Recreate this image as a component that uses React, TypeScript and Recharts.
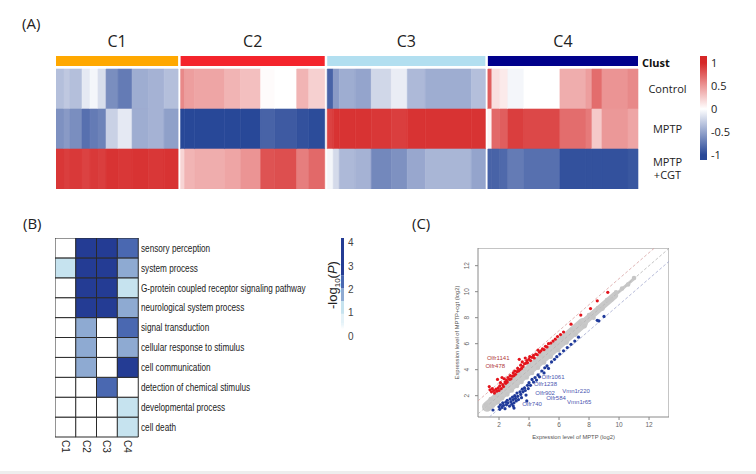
import React from 'react';
import {
  ComposedChart,
  BarChart,
  Bar,
  Cell,
  XAxis,
  YAxis,
  ReferenceArea,
  ReferenceLine,
  ScatterChart,
  Scatter,
} from 'recharts';

// ---------------- Panel A data ----------------
const clusterNames = ['C1', 'C2', 'C3', 'C4'];
const conditionNames = ['Control', 'MPTP', 'MPTP\n+CGT'];
const colorbarATicks = [-1, -0.5, 0, 0.5, 1];

const c1Genes = [4, 3, 6, 4, 4, 4, 6, 7, 8, 8, 7];
const c1Control = [-0.35, -0.3, -0.35, -0.12, -0.05, -0.18, -0.62, -0.72, -0.45, -0.42, -0.35];
const c1Mptp = [-0.6, -0.55, -0.62, -0.78, -0.72, -0.68, -0.25, -0.12, -0.45, -0.42, -0.52];
const c1Cgt = [0.93, 0.9, 0.92, 0.88, 0.92, 0.9, 0.95, 0.93, 0.95, 0.93, 0.95];

const c2Genes = [2, 5, 15, 8, 10, 7, 11, 6, 8];
const c2Control = [0.55, 0.45, 0.42, 0.35, 0.3, 0.02, 0.0, 0.35, 0.22];
const c2Mptp = [-1, -1, -1, -1, -1, -0.85, -0.9, -0.95, -0.98];
const c2Cgt = [0.2, 0.35, 0.38, 0.42, 0.5, 0.8, 0.82, 0.6, 0.7];

const c3Genes = [3, 3, 8, 8, 10, 8, 9, 23, 7];
const c3Control = [-0.85, -0.55, -0.45, -0.5, -0.22, -0.1, -0.38, -0.45, -0.35];
const c3Mptp = [0.88, 0.95, 0.95, 0.95, 0.93, 0.9, 0.95, 0.95, 0.95];
const c3Cgt = [-0.05, -0.2, -0.38, -0.42, -0.65, -0.6, -0.48, -0.4, -0.5];

const c4Genes = [2, 4, 4, 8, 18, 13, 3, 5, 13, 5];
const c4Control = [0.75, 0.15, 0.1, -0.05, 0.0, 0.38, 0.45, 0.68, 0.5, 0.55];
const c4Mptp = [0.05, 0.7, 0.75, 0.9, 0.85, 0.68, 0.62, 0.25, 0.48, 0.42];
const c4Cgt = [-0.85, -0.85, -0.82, -0.72, -0.78, -0.95, -0.95, -0.95, -0.95, -0.92];

// ---------------- Panel B data ----------------
const goTerms = [
  'sensory perception',
  'system process',
  'G-protein coupled receptor signaling pathway',
  'neurological system process',
  'signal transduction',
  'cellular response to stimulus',
  'cell communication',
  'detection of chemical stimulus',
  'developmental process',
  'cell death',
];
const goC1 = [0, 1.2, 0, 0, 0, 0, 0, 0, 0, 0];
const goC2 = [3.6, 3.5, 3.6, 3.5, 1.8, 1.8, 1.8, 0, 0, 0];
const goC3 = [3.6, 3.6, 3.5, 3.6, 0, 0, 0, 2.4, 0, 0];
const goC4 = [2.4, 1.8, 1.2, 1.8, 2.4, 1.8, 3.3, 0, 1.2, 1.2];
const colorbarBTicks = [0, 1, 2, 3, 4];
const colorbarBBands = [
  [0.55, 0.95],
  [0.95, 1.5],
  [1.5, 2.05],
  [2.05, 2.6],
  [2.6, 4.2],
];

// ---------------- Panel C data ----------------
const xTicksC = [2, 4, 6, 8, 10, 12];
const yTicksC = [2, 4, 6, 8, 10, 12];
const bandPath = [
  [1.2, 1.15],
  [7.6, 7.6],
  [9.7, 9.7],
  [11.0, 11.0],
];
const grayPoints = [
  [1.15, 1.3], [1.3, 1.0], [1.45, 1.75], [1.6, 1.25], [1.75, 2.05], [1.9, 1.5], [2.05, 2.4], [2.2, 1.8],
  [2.4, 2.8], [2.55, 2.1], [2.7, 3.1], [2.85, 2.4], [3.0, 3.35], [3.2, 2.75], [3.35, 3.7], [3.5, 3.05],
  [3.7, 4.05], [3.85, 3.4], [4.0, 4.35], [4.2, 3.75], [4.4, 4.75], [4.6, 4.15], [4.8, 5.1], [5.0, 4.55],
  [5.2, 5.5], [5.45, 5.0], [5.7, 6.0], [5.95, 5.5], [6.2, 6.45], [6.5, 6.1], [6.8, 7.05], [7.1, 6.7],
  [7.4, 7.6], [7.7, 7.35], [8.0, 8.2], [8.3, 8.0], [8.6, 8.75], [8.9, 8.7], [9.2, 9.35], [9.5, 9.4],
  [9.8, 9.95], [10.2, 10.25], [10.6, 10.55], [11.0, 11.05],
];
const redPoints = [
  [1.35, 2.7], [1.4, 2.45], [1.5, 2.3], [1.55, 2.55], [1.65, 2.4], [1.7, 2.2], [1.8, 2.5], [1.85, 2.35],
  [1.9, 3.25], [1.95, 2.6], [2.0, 2.4], [2.05, 2.75], [2.1, 3.0], [2.15, 2.55], [2.2, 3.4], [2.25, 2.85],
  [2.3, 2.7], [2.35, 3.3], [2.4, 3.05], [2.45, 2.95], [2.5, 3.2], [2.55, 3.05], [2.6, 3.4], [2.7, 3.25],
  [2.75, 3.55], [2.8, 3.3], [2.9, 3.5], [2.95, 3.75], [3.0, 3.55], [3.05, 3.9], [3.1, 3.65], [3.2, 3.85],
  [3.25, 4.1], [3.3, 3.9], [3.35, 4.8], [3.4, 4.0], [3.45, 4.35], [3.5, 4.1], [3.55, 4.6], [3.6, 4.25],
  [3.7, 4.45], [3.75, 4.9], [3.8, 4.5], [3.85, 4.7], [3.9, 4.55], [4.0, 4.8], [4.05, 5.0], [4.1, 4.7],
  [4.2, 4.95], [4.3, 5.1], [4.35, 4.9], [4.45, 5.2], [4.55, 5.15], [4.6, 5.5], [4.7, 5.35], [4.8, 5.45],
  [4.9, 5.6], [5.0, 5.55], [5.1, 5.8], [5.2, 5.75], [5.3, 6.0], [5.45, 6.05], [5.6, 6.2], [5.75, 6.35],
  [5.9, 6.55], [6.1, 6.7], [6.3, 6.9], [6.8, 7.5], [7.45, 8.2], [8.1, 8.7], [8.55, 9.3], [9.25, 9.95],
];
const bluePoints = [
  [1.6, 0.9], [2.0, 1.15], [2.05, 0.95], [2.1, 1.3], [2.2, 1.1], [2.25, 1.45], [2.3, 1.25], [2.4, 1.0],
  [2.45, 1.5], [2.5, 1.3], [2.55, 1.65], [2.6, 1.45], [2.7, 1.2], [2.75, 1.75], [2.8, 1.55], [2.85, 1.35],
  [2.9, 1.9], [2.95, 1.2], [2.95, 1.7], [3.0, 1.45], [3.0, 1.05], [3.05, 2.0], [3.1, 1.8], [3.15, 1.6],
  [3.2, 2.2], [3.25, 1.95], [3.3, 1.7], [3.4, 2.3], [3.45, 2.1], [3.5, 1.85], [3.55, 2.5], [3.6, 2.3],
  [3.7, 2.6], [3.75, 2.4], [3.8, 2.05], [3.85, 1.6], [3.9, 2.8], [3.95, 2.55], [4.0, 3.0], [4.1, 2.8],
  [4.2, 3.25], [4.3, 3.05], [4.4, 3.4], [4.5, 3.2], [4.6, 3.6], [4.7, 3.45], [4.85, 3.9], [5.0, 3.75],
  [5.05, 4.15], [5.2, 4.3], [5.3, 4.1], [5.5, 4.6], [5.7, 4.8], [5.85, 5.0], [6.05, 5.2], [6.3, 5.45],
  [6.55, 5.7], [6.8, 5.95], [7.05, 6.2], [7.3, 6.5], [8.55, 7.8], [8.65, 7.75], [9.0, 8.1],
];
const redGeneLabels = [
  { x: 1.95, y: 4.9, label: 'Olfr1141' },
  { x: 1.75, y: 4.3, label: 'Olfr478' },
];
const blueGeneLabels = [
  { x: 5.6, y: 3.4, label: 'Olfr1061' },
  { x: 5.1, y: 2.92, label: 'Olfr1238' },
  { x: 5.07, y: 2.22, label: 'Olfr902' },
  { x: 5.8, y: 1.84, label: 'Olfr584' },
  { x: 4.2, y: 1.38, label: 'Olfr740' },
  { x: 7.13, y: 2.34, label: 'Vmn1r220' },
  { x: 7.35, y: 1.55, label: 'Vmn1r65' },
];
const diagOffsets = [1, 0, -1];

// ---------------- styles ----------------
const SANS = "'Open Sans', 'Noto Sans', sans-serif";
const ARIAL = "'Liberation Sans', Arial, sans-serif";
const clusterColors = ['#ffa800', '#f4242c', '#b2dff0', '#00008b'];

function heatColor(v: number): string {
  const t = Math.max(-1, Math.min(1, v));
  const target = t >= 0 ? [214, 40, 40] : [40, 72, 152];
  const a = Math.abs(t);
  const c = target.map((ch) => Math.round(255 + (ch - 255) * a));
  return `rgb(${c[0]},${c[1]},${c[2]})`;
}

function goColor(v: number): string {
  if (v < 0.5) return '#ffffff';
  if (v < 1.5) return '#c6e3ef';
  if (v < 2.1) return '#8eaad2';
  if (v < 2.8) return '#4a68b1';
  return '#243c94';
}
const bandColors = ['#e4f2f8', '#c6e3ef', '#8eaad2', '#4a68b1', '#243c94'];

// ---------------- Panel A ----------------
function PanelA() {
  const genes = [c1Genes, c2Genes, c3Genes, c4Genes];
  const rows = [
    [c1Control, c1Mptp, c1Cgt],
    [c2Control, c2Mptp, c2Cgt],
    [c3Control, c3Mptp, c3Cgt],
    [c4Control, c4Mptp, c4Cgt],
  ];
  const GAP = 1.25;
  const cells: { x1: number; x2: number; y1: number; y2: number; fill: string }[] = [];
  const bounds: number[][] = [];
  let start = 0;
  genes.forEach((g, k) => {
    let x = start;
    g.forEach((w, j) => {
      rows[k].forEach((vals, r) => {
        cells.push({ x1: x, x2: x + w, y1: r, y2: r + 1, fill: heatColor(vals[j]) });
      });
      x += w;
    });
    bounds.push([start, x]);
    start = x + GAP;
  });
  const total = start - GAP;
  const centers = bounds.map((b) => (b[0] + b[1]) / 2);

  const ClusterTick = (props: any) => {
    const { x, y, index } = props;
    return (
      <text x={x} y={y - 9} textAnchor="middle" fontSize={16} fill="#222" fontFamily={SANS}>
        {clusterNames[index]}
      </text>
    );
  };
  const RowTick = (props: any) => {
    const { x, y, index } = props;
    if (index === 0) {
      return (
        <text x={x + 4} y={y + 5.5} fontSize={11} fontWeight="bold" fill="#111" fontFamily={SANS}>
          Clust
        </text>
      );
    }
    const lines = conditionNames[index - 1].split('\n');
    if (lines.length === 1) {
      return (
        <text x={x + 29.5} y={y + 4} textAnchor="middle" fontSize={11} fill="#222" fontFamily={SANS}>
          {lines[0]}
        </text>
      );
    }
    return (
      <g>
        <text x={x + 29.5} y={y - 3} textAnchor="middle" fontSize={11} fill="#222" fontFamily={SANS}>
          {lines[0]}
        </text>
        <text x={x + 29.5} y={y + 9.5} textAnchor="middle" fontSize={11} fill="#222" fontFamily={SANS}>
          {lines[1]}
        </text>
      </g>
    );
  };

  return (
    <div style={{ position: 'absolute', left: 56, top: 30 }}>
      <ComposedChart width={582 + 80} height={133 + 26} margin={{ top: 0, right: 0, bottom: 0, left: 0 }} data={[{ x: 0, y: 0 }]}>
        <XAxis
          type="number"
          dataKey="x"
          orientation="top"
          domain={[0, total]}
          allowDataOverflow
          height={26}
          ticks={centers}
          interval={0}
          tick={ClusterTick}
          axisLine={false}
          tickLine={false}
          tickSize={0}
          tickMargin={0}
        />
        <YAxis
          type="number"
          dataKey="y"
          orientation="right"
          reversed
          domain={[-0.325, 3]}
          allowDataOverflow
          width={80}
          ticks={[-0.2, 0.5, 1.5, 2.5]}
          interval={0}
          tick={RowTick}
          axisLine={false}
          tickLine={false}
          tickSize={0}
          tickMargin={0}
        />
        {bounds.map((b, k) => (
          <ReferenceArea
            key={`cb${k}`}
            x1={b[0]}
            x2={b[1]}
            y1={-0.325}
            y2={-0.075}
            fill={clusterColors[k]}
            fillOpacity={1}
            stroke="none"
          />
        ))}
        {cells.map((c, i) => (
          <ReferenceArea
            key={`c${i}`}
            x1={c.x1}
            x2={c.x2}
            y1={c.y1}
            y2={c.y2}
            fill={c.fill}
            fillOpacity={1}
            stroke={c.fill}
            strokeWidth={0.6}
          />
        ))}
      </ComposedChart>
    </div>
  );
}

function ColorbarA() {
  return (
    <div style={{ position: 'absolute', left: 700, top: 56 }}>
      <ComposedChart width={7 + 40} height={104 + 12} margin={{ top: 0, right: 0, bottom: 12, left: 0 }} data={[{ x: 0, y: 0 }]}>
        <defs>
          <linearGradient id="gradA" x1="0" y1="0" x2="0" y2="1">
            <stop offset="0" stopColor={heatColor(1)} />
            <stop offset="0.066" stopColor={heatColor(1)} />
            <stop offset="0.28" stopColor={heatColor(0.5)} />
            <stop offset="0.509" stopColor={heatColor(0)} />
            <stop offset="0.73" stopColor={heatColor(-0.5)} />
            <stop offset="0.951" stopColor={heatColor(-1)} />
            <stop offset="1" stopColor={heatColor(-1)} />
          </linearGradient>
        </defs>
        <XAxis type="number" dataKey="x" domain={[0, 1]} hide />
        <YAxis
          type="number"
          dataKey="y"
          orientation="right"
          domain={[-1.11, 1.15]}
          allowDataOverflow
          ticks={colorbarATicks}
          interval={0}
          width={40}
          axisLine={false}
          tickLine={false}
          tickSize={0}
          tickMargin={4}
          tick={{ fontSize: 11, fill: '#222', fontFamily: SANS }}
        />
        <ReferenceArea x1={0} x2={1} y1={-1.11} y2={1.15} fill="url(#gradA)" fillOpacity={1} stroke="none" />
      </ComposedChart>
    </div>
  );
}

// ---------------- Panel B ----------------
function PanelB() {
  const cols = [goC1, goC2, goC3, goC4];
  const n = goTerms.length;
  const data = clusterNames.map((name) => {
    const row: any = { name };
    goTerms.forEach((_, i) => (row[`t${i}`] = 1));
    return row;
  });
  const ColTick = (props: any) => {
    const { x, y, payload } = props;
    return (
      <text
        x={x}
        y={y}
        transform={`rotate(90, ${x}, ${y})`}
        textAnchor="start"
        dominantBaseline="central"
        fontSize={10}
        fill="#222"
        fontFamily={ARIAL}
      >
        {payload.value}
      </text>
    );
  };
  const TermTick = (props: any) => {
    const { x, y, payload } = props;
    const label = goTerms[n - 1 - Math.floor(payload.value)];
    return (
      <text
        transform={`translate(${x}, ${y + 3.8}) scale(0.78, 1)`}
        x={0}
        y={0}
        textAnchor="start"
        fontSize={10.5}
        fill="#222"
        fontFamily={ARIAL}
      >
        {label}
      </text>
    );
  };
  return (
    <div style={{ position: 'absolute', left: 55, top: 238 }}>
      <BarChart
        width={83 + 190}
        height={199 + 24}
        data={data}
        margin={{ top: 0, right: 0, bottom: 0, left: 0 }}
        barCategoryGap={0}
        barGap={0}
      >
        <XAxis
          dataKey="name"
          type="category"
          height={24}
          interval={0}
          tick={ColTick}
          axisLine={false}
          tickLine={false}
          tickSize={0}
          tickMargin={3}
        />
        <YAxis
          type="number"
          orientation="right"
          domain={[0, n]}
          ticks={goTerms.map((_, i) => i + 0.5)}
          interval={0}
          width={190}
          axisLine={false}
          tickLine={false}
          tickSize={0}
          tickMargin={3}
          tick={TermTick}
        />
        {goTerms.map((_, i) => {
          const term = n - 1 - i;
          return (
            <Bar key={`b${i}`} dataKey={`t${i}`} stackId="s" isAnimationActive={false} stroke="#2a2a2a" strokeWidth={1}>
              {cols.map((col, k) => (
                <Cell key={`cell${k}`} fill={goColor(col[term])} />
              ))}
            </Bar>
          );
        })}
      </BarChart>
    </div>
  );
}

function ColorbarB() {
  return (
    <div style={{ position: 'absolute', left: 340.5, top: 238 }}>
      <ComposedChart width={3 + 20} height={102 + 10} margin={{ top: 0, right: 0, bottom: 10, left: 0 }} data={[{ x: 0, y: 0 }]}>
        <defs>
          <linearGradient id="gradB" x1="0" y1="1" x2="0" y2="0">
            <stop offset="0" stopColor="#ffffff" />
            <stop offset="1" stopColor={bandColors[0]} />
          </linearGradient>
        </defs>
        <XAxis type="number" dataKey="x" domain={[0, 1]} hide />
        <YAxis
          type="number"
          dataKey="y"
          orientation="right"
          domain={[-0.17, 4.2]}
          allowDataOverflow
          ticks={colorbarBTicks}
          interval={0}
          width={20}
          axisLine={false}
          tickLine={false}
          tickSize={0}
          tickMargin={4}
          tick={{ fontSize: 10, fill: '#444', fontFamily: ARIAL }}
        />
        <ReferenceArea x1={0} x2={1} y1={0.3} y2={colorbarBBands[0][0]} fill="url(#gradB)" fillOpacity={1} stroke="none" />
        {colorbarBBands.map((b, i) => (
          <ReferenceArea key={`cbb${i}`} x1={0} x2={1} y1={b[0]} y2={b[1]} fill={bandColors[i]} fillOpacity={1} stroke="none" />
        ))}
      </ComposedChart>
    </div>
  );
}

// ---------------- Panel C ----------------
function PanelC() {
  const xDom = [0.6, 13.33];
  const yDom = [0.36, 13.36];
  const toObj = (arr: number[][]) => arr.map((p) => ({ x: p[0], y: p[1] }));
  const bandWidths = [10, 7, 3];
  const YTick = (props: any) => {
    const { x, y, payload } = props;
    return (
      <text x={x} y={y} transform={`rotate(-90, ${x}, ${y})`} textAnchor="middle" fontSize={6.5} fill="#666" fontFamily={ARIAL}>
        {payload.value}
      </text>
    );
  };
  const dot = (color: string, r: number) => (p: any) => <circle cx={p.cx} cy={p.cy} r={r} fill={color} />;
  const labelShape = (color: string) => (p: any) => (
    <text x={p.cx} y={p.cy + 2} textAnchor="middle" fontSize={6} fill={color} fontFamily={ARIAL}>
      {p.payload.label}
    </text>
  );
  const diagColors = ['#d8a3a3', '#b5b5b5', '#a3a9cf'];
  return (
    <div style={{ position: 'absolute', left: 448, top: 248 }}>
      <ScatterChart width={221} height={197} margin={{ top: 0, right: 0, bottom: 0, left: 0 }}>
        <XAxis
          type="number"
          dataKey="x"
          domain={xDom}
          allowDataOverflow
          ticks={xTicksC}
          interval={0}
          height={28}
          axisLine={false}
          tickLine={{ stroke: '#888' }}
          tickSize={3}
          tickMargin={2}
          tick={{ fontSize: 6.5, fill: '#666', fontFamily: ARIAL }}
        />
        <YAxis
          type="number"
          dataKey="y"
          domain={yDom}
          allowDataOverflow
          ticks={yTicksC}
          interval={0}
          width={30}
          axisLine={false}
          tickLine={{ stroke: '#888' }}
          tickSize={3}
          tickMargin={6}
          tick={YTick}
        />
        <ReferenceArea x1={xDom[0]} x2={xDom[1]} y1={yDom[0]} y2={yDom[1]} fill="none" stroke="#8a8a8a" strokeWidth={1} />
        {bandPath.slice(0, -1).map((p, i) => (
          <ReferenceLine
            key={`band${i}`}
            segment={[
              { x: p[0], y: p[1] },
              { x: bandPath[i + 1][0], y: bandPath[i + 1][1] },
            ]}
            stroke="#c9c9c9"
            strokeWidth={bandWidths[i]}
            strokeLinecap="round"
            ifOverflow="hidden"
          />
        ))}
        <Scatter data={toObj(grayPoints)} isAnimationActive={false} shape={dot('#c6c6c6', 2.3)} />
        {diagOffsets.map((c, i) => {
          const x0 = Math.max(xDom[0], yDom[0] - c);
          const x1 = Math.min(xDom[1], yDom[1] - c);
          return (
            <ReferenceLine
              key={`d${i}`}
              segment={[
                { x: x0, y: x0 + c },
                { x: x1, y: x1 + c },
              ]}
              stroke={diagColors[i]}
              strokeWidth={0.8}
              strokeDasharray="3 2"
              ifOverflow="hidden"
            />
          );
        })}
        <Scatter data={toObj(redPoints)} isAnimationActive={false} shape={dot('#e3141c', 1.6)} />
        <Scatter data={toObj(bluePoints)} isAnimationActive={false} shape={dot('#1f3a9a', 1.6)} />
        <Scatter data={redGeneLabels} isAnimationActive={false} shape={labelShape('#b0393a')} />
        <Scatter data={blueGeneLabels} isAnimationActive={false} shape={labelShape('#4a55b0')} />
      </ScatterChart>
    </div>
  );
}

function Overlay() {
  return (
    <svg width={756} height={474} style={{ position: 'absolute', left: 0, top: 0, pointerEvents: 'none' }}>
      <text x={22} y={29} fontSize={15} fill="#222" fontFamily={SANS}>(A)</text>
      <text x={23} y={229} fontSize={15} fill="#222" fontFamily={SANS}>(B)</text>
      <text x={412} y={229} fontSize={15} fill="#222" fontFamily={SANS}>(C)</text>
      <text
        x={337}
        y={285}
        transform="rotate(-90, 337, 285)"
        textAnchor="middle"
        fontSize={13}
        fill="#222"
        fontFamily={ARIAL}
      >
        -log<tspan fontSize={8} dy={3}>10</tspan>
        <tspan dy={-3}>(</tspan>
        <tspan fontStyle="italic">P</tspan>)
      </text>
      <text x={573.5} y={439} textAnchor="middle" fontSize={5.8} fill="#555" fontFamily={ARIAL}>
        Expression level of MPTP (log2)
      </text>
      <text
        x={459}
        y={332.5}
        transform="rotate(-90, 459, 332.5)"
        textAnchor="middle"
        fontSize={5.8}
        fill="#555"
        fontFamily={ARIAL}
      >
        Expression level of MPTP+cgt (log2)
      </text>
    </svg>
  );
}

export default function App() {
  return (
    <div style={{ position: 'absolute', left: 0, top: 0, width: 756, height: 474, background: '#ffffff', overflow: 'hidden' }}>
      <PanelA />
      <ColorbarA />
      <PanelB />
      <ColorbarB />
      <PanelC />
      <Overlay />
      <div style={{ position: 'absolute', left: 0, top: 471, width: 756, height: 3, background: '#eeeeee' }} />
    </div>
  );
}
